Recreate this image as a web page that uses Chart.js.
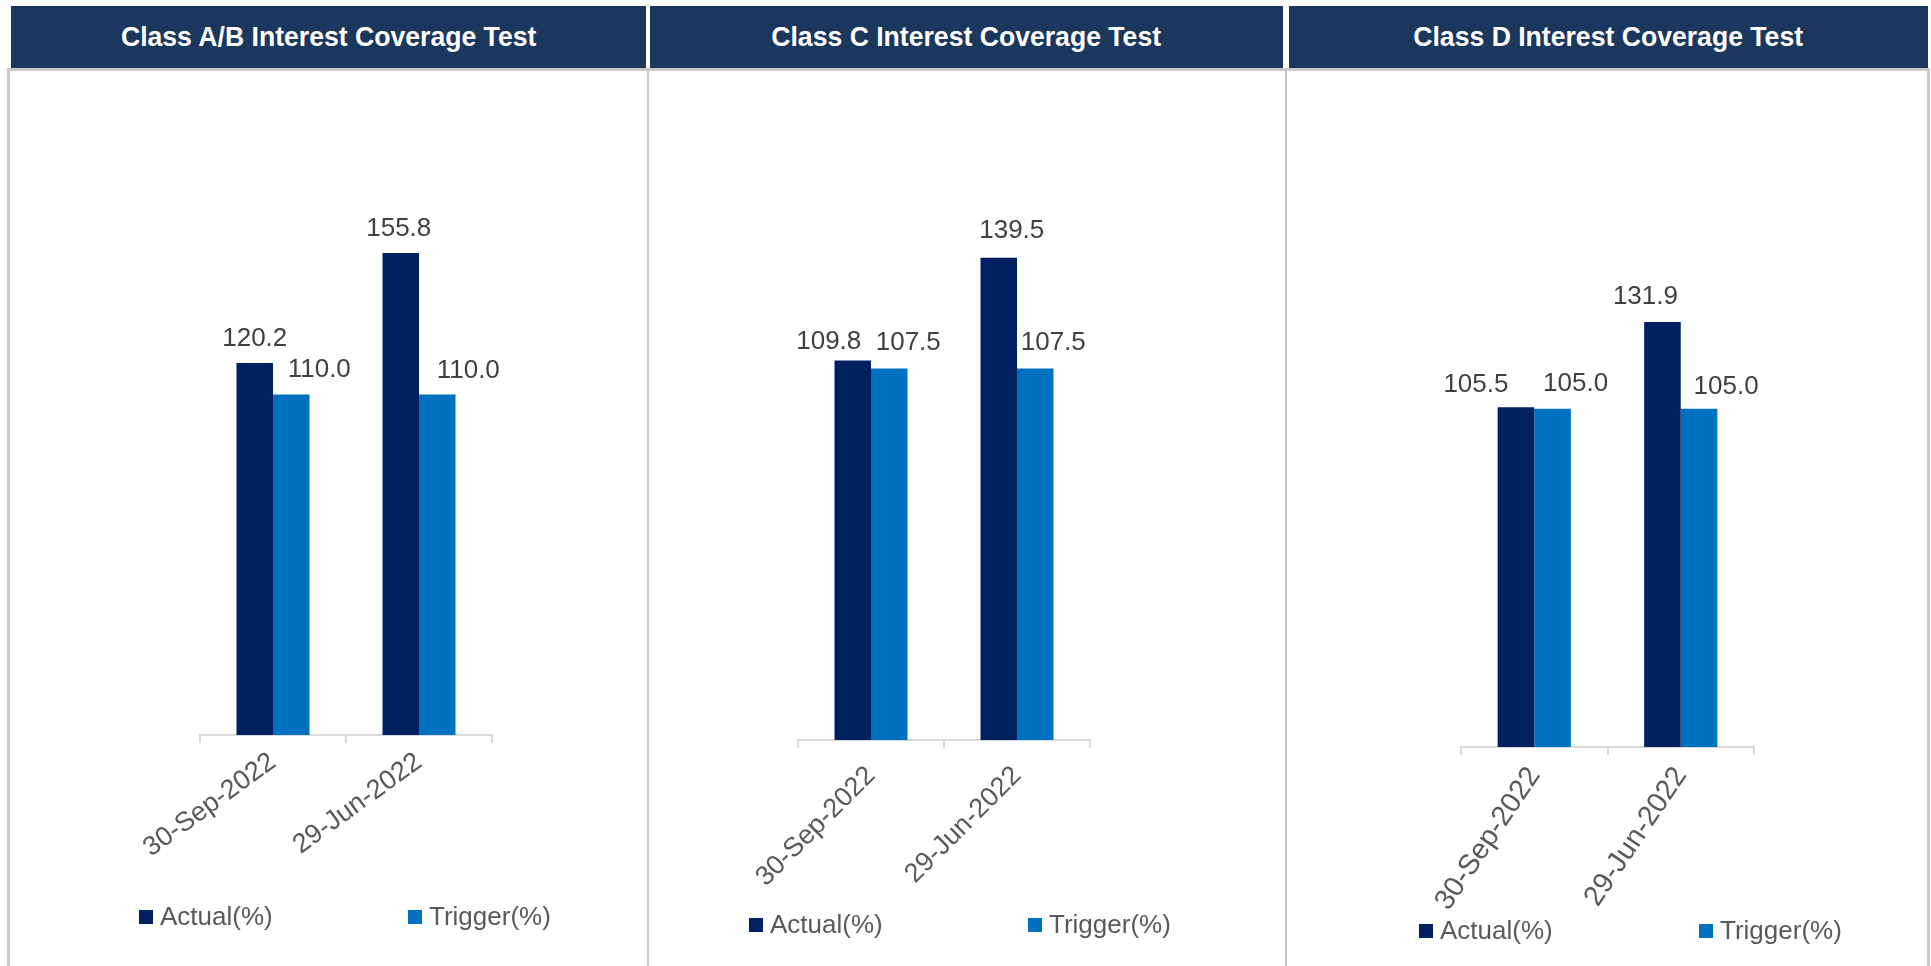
<!DOCTYPE html>
<html lang="en">
  <head>
    <meta charset="UTF-8" />
    <title>Interest Coverage Tests</title>
    <script src="https://cdn.jsdelivr.net/npm/chart.js@4.4.1/dist/chart.umd.min.js"></script>
    <style>
      body {
        margin: 0;
        width: 1931px;
        height: 966px;
        overflow: hidden;
        background: #ffffff;
        font-family: "Liberation Sans", Arial, sans-serif;
        position: relative;
      }
      .header {
        position: absolute;
        top: 6px;
        height: 62px;
        background: #1b375e;
        color: #ffffff;
        font-weight: bold;
        font-size: 28px;
        line-height: 62px;
        text-align: center;
      }
      .header span {
        display: inline-block;
        transform: scaleX(0.95);
      }
      .rule {
        position: absolute;
        background: #c9c9c9;
      }
      canvas {
        position: absolute;
        top: 71px;
      }
      .legend-item {
        position: absolute;
        font-size: 26px;
        color: #595959;
        line-height: 30px;
        white-space: nowrap;
      }
      .legend-item span {
        display: inline-block;
        width: 14px;
        height: 14px;
        margin-right: 7px;
        vertical-align: 1px;
      }
    </style>
  </head>
  <body>
    <script>
      // report dates and series
      const periods = ["30-Sep-2022", "29-Jun-2022"];
      const seriesNames = ["Actual(%)", "Trigger(%)"];

      const titleAB = "Class A/B Interest Coverage Test";
      const actualAB = [120.2, 155.8];
      const triggerAB = [110.0, 110.0];

      const titleC = "Class C Interest Coverage Test";
      const actualC = [109.8, 139.5];
      const triggerC = [107.5, 107.5];

      const titleD = "Class D Interest Coverage Test";
      const actualD = [105.5, 131.9];
      const triggerD = [105.0, 105.0];

      const colors = ["#002060", "#0070c0"];
      const font = "'Liberation Sans', Arial, sans-serif";

      // layout of the three panels (page pixels)
      const panels = [
        {
          title: titleAB, actual: actualAB, trigger: triggerAB, yMax: 180,
          header: [11, 635], canvas: [10, 637],
          tilt: 36, tickGap: 3, tickSize: 27,
          pad: { left: 190, right: 155, top: 107, bottom: 36 },
          legend: [[139, 901], [408, 901]],
          nudge: [[[0, 24], [-2, 24]], [[28, 25], [31, 24]]],
        },
        {
          title: titleC, actual: actualC, trigger: triggerC, yMax: 160,
          header: [650, 633], canvas: [650, 635],
          tilt: 45, tickGap: 12, tickSize: 27,
          pad: { left: 148, right: 195, top: 116, bottom: 31 },
          legend: [[749, 909], [1028, 909]],
          nudge: [[[-24, 19], [13, 27]], [[19, 26], [18, 26]]],
        },
        {
          title: titleD, actual: actualD, trigger: triggerD, yMax: 140,
          header: [1289, 639], canvas: [1289, 639],
          tilt: 56, tickGap: 6, tickSize: 28.5,
          pad: { left: 172, right: 174, top: 225, bottom: 24 },
          legend: [[1419, 915], [1699, 915]],
          nudge: [[[-40, 22], [-17, 25]], [[23, 25], [27, 22]]],
        },
      ];

      // frame lines around and between the panels
      function rule(x, y, w, h) {
        const d = document.createElement("div");
        d.className = "rule";
        Object.assign(d.style, { left: x + "px", top: y + "px", width: w + "px", height: h + "px" });
        document.body.appendChild(d);
      }
      rule(7, 68, 1923, 3);
      rule(7, 68, 3, 898);
      rule(647, 68, 2, 898);
      rule(1285, 68, 2, 898);
      rule(1927, 68, 3, 898);

      // value labels above each bar
      const valueLabels = {
        id: "valueLabels",
        afterDatasetsDraw(chart, args, opts) {
          const ctx = chart.ctx;
          ctx.save();
          ctx.font = "26px " + font;
          ctx.fillStyle = "#404040";
          ctx.textAlign = "center";
          ctx.textBaseline = "middle";
          chart.data.datasets.forEach((ds, i) => {
            chart.getDatasetMeta(i).data.forEach((bar, j) => {
              const [dx, dy] = opts.nudge[i][j];
              ctx.fillText(ds.data[j].toFixed(1), bar.x + dx, bar.y - dy);
            });
          });
          ctx.restore();
        },
      };

      panels.forEach((p) => {
        const head = document.createElement("div");
        head.className = "header";
        head.style.left = p.header[0] + "px";
        head.style.width = p.header[1] + "px";
        const headText = document.createElement("span");
        headText.textContent = p.title;
        head.appendChild(headText);
        document.body.appendChild(head);

        const canvas = document.createElement("canvas");
        canvas.width = p.canvas[1];
        canvas.height = 870;
        canvas.style.left = p.canvas[0] + "px";
        document.body.appendChild(canvas);

        const datasets = [p.actual, p.trigger].map((values, i) => ({
          label: seriesNames[i],
          data: values,
          backgroundColor: colors[i],
          categoryPercentage: 0.5,
          barPercentage: 1.0,
        }));

        const chart = new Chart(canvas, {
          type: "bar",
          data: { labels: periods, datasets: datasets },
          options: {
            responsive: false,
            animation: false,
            layout: { padding: p.pad },
            plugins: {
              legend: { display: false },
              tooltip: { enabled: false },
              valueLabels: { nudge: p.nudge },
            },
            scales: {
              x: {
                afterFit: (scale) => {
                  scale.height = 170;
                },
                grid: {
                  offset: true,
                  drawOnChartArea: false,
                  tickLength: 8,
                  color: "#d9d9d9",
                  lineWidth: 2,
                },
                border: { color: "#d9d9d9", width: 2 },
                ticks: {
                  autoSkip: false,
                  minRotation: p.tilt,
                  maxRotation: p.tilt,
                  padding: p.tickGap,
                  color: "#595959",
                  font: { family: font, size: p.tickSize },
                },
              },
              y: { display: false, min: 0, max: p.yMax },
            },
          },
          plugins: [valueLabels],
        });

        // legend entries built from the chart's datasets
        chart.data.datasets.forEach((ds, i) => {
          const item = document.createElement("div");
          item.className = "legend-item";
          item.style.left = p.legend[i][0] + "px";
          item.style.top = p.legend[i][1] + "px";
          const box = document.createElement("span");
          box.style.background = ds.backgroundColor;
          item.appendChild(box);
          item.appendChild(document.createTextNode(ds.label));
          document.body.appendChild(item);
        });
      });
    </script>
  </body>
</html>
